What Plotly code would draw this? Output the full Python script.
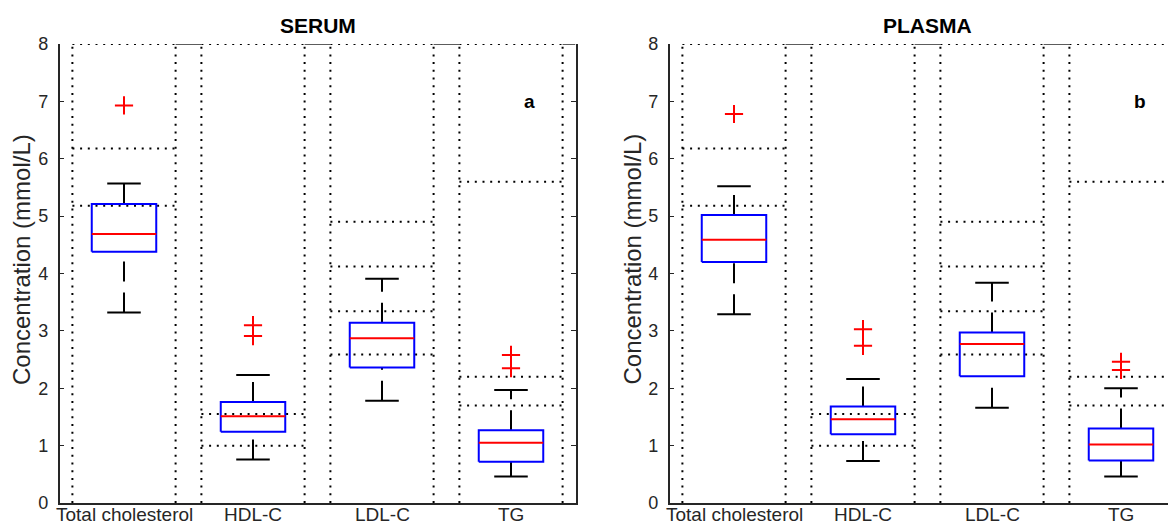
import plotly.graph_objects as go

# ---------------- data ----------------
categories = ["Total cholesterol", "HDL-C", "LDL-C", "TG"]

serum_q1 = [4.38, 1.24, 2.36, 0.72]
serum_median = [4.69, 1.51, 2.87, 1.05]
serum_q3 = [5.21, 1.76, 3.14, 1.27]
serum_low = [3.32, 0.76, 1.78, 0.46]
serum_high = [5.57, 2.23, 3.91, 1.97]
serum_outliers = [[6.93], [3.10, 2.91], [], [2.58, 2.35]]

plasma_q1 = [4.20, 1.20, 2.21, 0.74]
plasma_median = [4.59, 1.46, 2.77, 1.02]
plasma_q3 = [5.02, 1.68, 2.97, 1.30]
plasma_low = [3.29, 0.73, 1.66, 0.46]
plasma_high = [5.52, 2.16, 3.84, 2.00]
plasma_outliers = [[6.78], [3.03, 2.74], [], [2.46, 2.32]]

# reference-range limits (mmol/L) per analyte
reference_limits = [[5.18, 6.18], [1.00, 1.55], [2.59, 3.34, 4.12, 4.90], [1.70, 2.20, 5.60]]

y_ticks = [0, 1, 2, 3, 4, 5, 6, 7, 8]
y_max = 8

# ---------------- style ----------------
BOX_HALF = 0.25
CAP_HALF = 0.13
REF_HALF = 0.40
AX = "#262626"
FONT = "Liberation Sans, Arial, Helvetica, sans-serif"

fig = go.Figure()


def add_panel(xa, ya, q1, med, q3, lo, hi, outs, xmax):
    pos = list(range(1, len(categories) + 1))
    # dotted reference rectangles
    dx, dy = [], []
    for p, lims in zip(pos, reference_limits):
        for xv in (p - REF_HALF, p + REF_HALF):
            dx += [xv, xv, None]
            dy += [0, y_max, None]
        for lv in lims + [y_max]:
            dx += [p - REF_HALF, p + REF_HALF, None]
            dy += [lv, lv, None]
    fig.add_trace(go.Scatter(x=dx, y=dy, mode="lines", xaxis=xa, yaxis=ya,
                             line=dict(color="black", width=2, dash="2px,5.7px"),
                             hoverinfo="skip", showlegend=False, cliponaxis=False))
    # solid top frame between the rectangles
    tx, ty = [], []
    edges = [p + REF_HALF for p in pos]
    starts = [p - REF_HALF for p in pos[1:]] + [xmax]
    for a, b in zip(edges, starts):
        tx += [a, b, None]
        ty += [y_max, y_max, None]
    fig.add_trace(go.Scatter(x=tx, y=ty, mode="lines", xaxis=xa, yaxis=ya,
                             line=dict(color=AX, width=1.5),
                             hoverinfo="skip", showlegend=False, cliponaxis=False))
    # whiskers (dashed, drawn bottom -> top)
    for p, a, b, c, d in zip(pos, lo, q1, q3, hi):
        for y0, y1 in ((a, b), (c, d)):
            fig.add_trace(go.Scatter(x=[p, p], y=[y0, y1], mode="lines", xaxis=xa, yaxis=ya,
                                     line=dict(color="black", width=2, dash="20px,11px"),
                                     hoverinfo="skip", showlegend=False))
    # caps
    cx, cy = [], []
    for p, a, d in zip(pos, lo, hi):
        for v in (a, d):
            cx += [p - CAP_HALF, p + CAP_HALF, None]
            cy += [v, v, None]
    fig.add_trace(go.Scatter(x=cx, y=cy, mode="lines", xaxis=xa, yaxis=ya,
                             line=dict(color="black", width=2),
                             hoverinfo="skip", showlegend=False))
    # boxes
    bx, by = [], []
    for p, b, c in zip(pos, q1, q3):
        bx += [p - BOX_HALF, p + BOX_HALF, p + BOX_HALF, p - BOX_HALF, p - BOX_HALF, None]
        by += [b, b, c, c, b, None]
    fig.add_trace(go.Scatter(x=bx, y=by, mode="lines", xaxis=xa, yaxis=ya,
                             line=dict(color="#0000FF", width=2),
                             hoverinfo="skip", showlegend=False))
    # medians
    mx, my = [], []
    for p, m in zip(pos, med):
        mx += [p - BOX_HALF, p + BOX_HALF, None]
        my += [m, m, None]
    fig.add_trace(go.Scatter(x=mx, y=my, mode="lines", xaxis=xa, yaxis=ya,
                             line=dict(color="#FF0000", width=2),
                             hoverinfo="skip", showlegend=False))
    # outliers
    ox, oy = [], []
    for p, vals in zip(pos, outs):
        for v in vals:
            ox.append(p)
            oy.append(v)
    fig.add_trace(go.Scatter(x=ox, y=oy, mode="markers", xaxis=xa, yaxis=ya,
                             marker=dict(symbol="cross-thin", size=13,
                                         line=dict(color="#FF0000", width=2)),
                             hoverinfo="skip", showlegend=False))


# page body has an 8px margin: the figure is sized to fit the 1176x529 window
OFF = 8
W, H = 1176 - OFF, 529 - OFF


def px_x(sx):
    return (sx - OFF) / W


def px_y(sy):
    return (H - (sy - OFF)) / H


left_x = [px_x(59.5), px_x(575.5)]
right_x = [px_x(669.5), 1.0]
y_dom = [px_y(503), px_y(44)]
right_xmax = 0.5 + (1176 - 669.5) / 129.0

add_panel("x", "y", serum_q1, serum_median, serum_q3, serum_low, serum_high, serum_outliers, 4.5)
add_panel("x2", "y2", plasma_q1, plasma_median, plasma_q3, plasma_low, plasma_high, plasma_outliers, right_xmax)

xcommon = dict(tickvals=[1, 2, 3, 4], showticklabels=False, showgrid=False, zeroline=False,
               showline=True, linecolor=AX, linewidth=1.5, ticks="", automargin=False)
ycommon = dict(range=[0, y_max], tickvals=y_ticks, showgrid=False, zeroline=False,
               showline=True, linecolor=AX, linewidth=1.5, ticks="inside", ticklen=5,
               tickcolor=AX, tickwidth=1, ticklabelstandoff=6, automargin=False,
               tickfont=dict(family=FONT, size=18, color=AX))

annotations = [
    dict(text="<b>SERUM</b>", x=px_x(317.5), y=px_y(25.5), xref="paper", yref="paper",
         showarrow=False, xanchor="center", yanchor="middle",
         font=dict(family=FONT, size=21, color="black")),
    dict(text="<b>PLASMA</b>", x=px_x(927), y=px_y(25.5), xref="paper", yref="paper",
         showarrow=False, xanchor="center", yanchor="middle",
         font=dict(family=FONT, size=21, color="black")),
    dict(text="Concentration (mmol/L)", x=px_x(21.5), y=px_y(259.5), xref="paper",
         yref="paper", textangle=-90, showarrow=False, xanchor="center", yanchor="middle",
         font=dict(family=FONT, size=24, color=AX)),
    dict(text="Concentration (mmol/L)", x=px_x(632), y=px_y(259.5), xref="paper",
         yref="paper", textangle=-90, showarrow=False, xanchor="center", yanchor="middle",
         font=dict(family=FONT, size=24, color=AX)),
    dict(text="<b>a</b>", x=4.14, y=7.0, xref="x", yref="y", showarrow=False,
         xanchor="center", yanchor="middle", font=dict(family=FONT, size=19, color="black")),
    dict(text="<b>b</b>", x=4.15, y=7.0, xref="x2", yref="y2", showarrow=False,
         xanchor="center", yanchor="middle", font=dict(family=FONT, size=19, color="black")),
]
# category labels under each panel
for xref in ("x", "x2"):
    for i, cat in enumerate(categories):
        annotations.append(dict(text=cat, x=i + 1, y=px_y(514), xref=xref, yref="paper",
                                showarrow=False, xanchor="center", yanchor="middle",
                                font=dict(family=FONT, size=19, color=AX)))

fig.update_layout(
    width=W, height=H, autosize=False,
    margin=dict(l=0, r=0, t=0, b=0, pad=0),
    paper_bgcolor="white", plot_bgcolor="white",
    xaxis=dict(domain=left_x, range=[0.5, 4.5], anchor="y", **xcommon),
    yaxis=dict(domain=y_dom, anchor="x", mirror="ticks", **ycommon),
    xaxis2=dict(domain=right_x, range=[0.5, right_xmax], anchor="y2", **xcommon),
    yaxis2=dict(domain=y_dom, anchor="x2", mirror=False, **ycommon),
    annotations=annotations,
)

fig.write_html("out.html")
